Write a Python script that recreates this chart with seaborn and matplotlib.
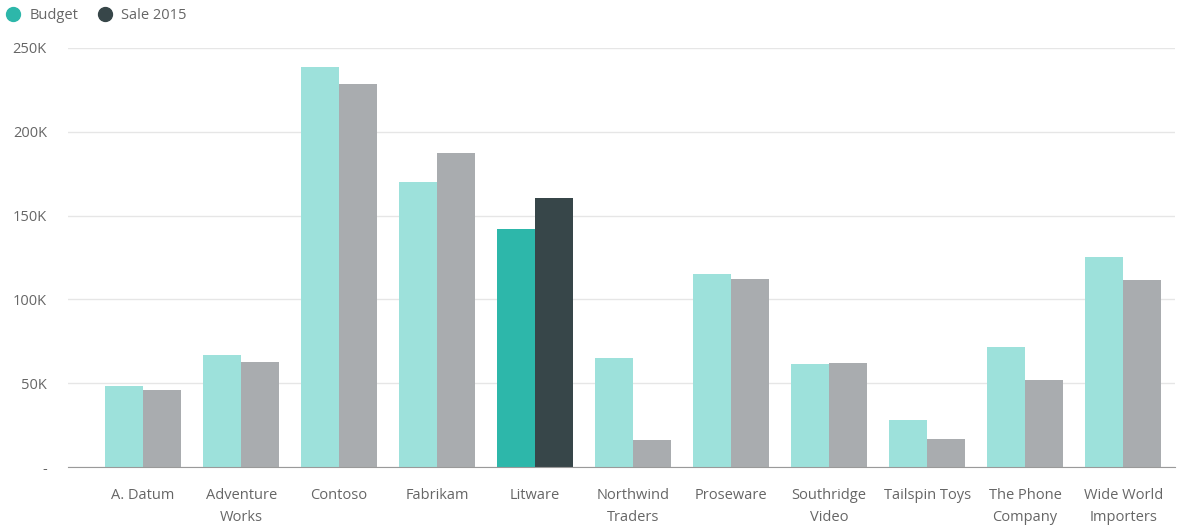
import pandas as pd
import matplotlib.pyplot as plt
import seaborn as sns
from matplotlib.lines import Line2D
from matplotlib.ticker import FuncFormatter

categories = ['A. Datum', 'Adventure\nWorks', 'Contoso', 'Fabrikam', 'Litware',
              'Northwind\nTraders', 'Proseware', 'Southridge\nVideo', 'Tailspin Toys',
              'The Phone\nCompany', 'Wide World\nImporters']
budget = [48300, 66800, 238700, 170000, 142000, 65000, 115000, 61500, 28000, 71600, 125000]
sale_2015 = [46000, 62600, 228500, 187300, 160500, 16000, 112000, 62000, 16700, 52000, 111500]
highlight = 'Litware'

# Long-form table for seaborn
df = pd.DataFrame({
    'Category': categories * 2,
    'Value': budget + sale_2015,
    'Series': ['Budget'] * len(categories) + ['Sale 2015'] * len(categories),
})

colors_on = {'Budget': '#2db7aa', 'Sale 2015': '#374649'}
colors_off = {'Budget': '#9de1db', 'Sale 2015': '#a9acaf'}

plt.rcParams['font.family'] = ['Open Sans', 'DejaVu Sans']
fig = plt.figure(figsize=(11.87, 5.26), dpi=100)
ax = fig.add_axes([0.057, 0.112, 0.933, 0.797])

sns.barplot(data=df, x='Category', y='Value', hue='Series', order=categories,
            hue_order=['Budget', 'Sale 2015'], palette=colors_on, width=0.78,
            saturation=1, legend=False, ax=ax)

# Fade every category except the highlighted one
for series, container in zip(['Budget', 'Sale 2015'], ax.containers):
    for cat, bar in zip(categories, container):
        bar.set_edgecolor('none')
        bar.set_facecolor(colors_on[series] if cat.replace('\n', ' ') == highlight else colors_off[series])

ax.set_xlim(-0.77, 10.53)
ax.set_ylim(0, 250000)
ax.set_yticks([0, 50000, 100000, 150000, 200000, 250000])
ax.yaxis.set_major_formatter(FuncFormatter(lambda v, p: '-' if v == 0 else f'{int(v / 1000)}K'))
ax.grid(axis='y', color='#e6e6e6', linewidth=1)
ax.set_axisbelow(True)
for side in ['top', 'right', 'left']:
    ax.spines[side].set_visible(False)
ax.spines['bottom'].set_color('#9a9a9a')
ax.tick_params(axis='both', length=0, colors='#666666', labelsize=10.5)
ax.tick_params(axis='x', pad=15)
ax.tick_params(axis='y', pad=15)
for lbl in ax.get_xticklabels():
    lbl.set_linespacing(1.6)
ax.set_xlabel('')
ax.set_ylabel('')

# Legend with round markers, top-left
handles = [Line2D([], [], marker='o', linestyle='', markersize=10, color=colors_on[s], label=s)
           for s in ['Budget', 'Sale 2015']]
fig.legend(handles=handles, loc='upper left', bbox_to_anchor=(-0.012, 1.01), ncol=2, frameon=False,
           fontsize=10.5, handletextpad=0.1, columnspacing=0.8, labelcolor='#666666')

plt.savefig('out.png', dpi=100)
